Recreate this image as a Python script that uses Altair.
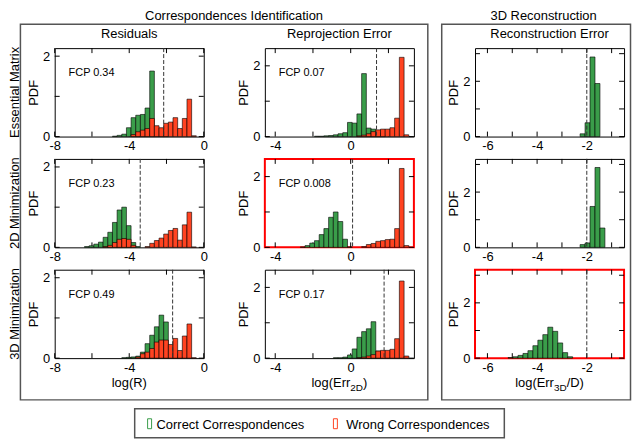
import altair as alt
import pandas as pd

FONT = "Liberation Sans"
GREEN = "#3a9d4a"
RED = "#ff4321"
FRAME = "#555555"

W, H = 150, 89
CS, RS = 61.5, 22.5

# ---------------- data ----------------
col_titles = ["Residuals", "Reprojection Error", "Reconstruction Error"]
row_titles = ["Essential Matrix", "2D Minimization", "3D Minimization"]
group_titles = ["Correspondences Identification", "3D Reconstruction"]
legend_labels = ["Correct Correspondences", "Wrong Correspondences"]

x_domains = [[-8, 0], [-4.55, 3.35], [-6.5, -0.5]]
x_tick_vals = [[-8, -6, -4, -2, 0], [-4, -2, 0, 2], [-6, -5, -4, -3, -2, -1]]
x_label_vals = [[-8, -4, 0], [-4, 0], [-6, -4, -2]]
y_domains = [[0, 2.2], [0, 2.5], [0, 3.2]]
y_tick_vals = [[0, 1, 2], [0, 1, 2], [0, 1, 2, 3]]
y_label_vals = [[0, 2], [0, 2], [0, 2]]
bin_widths = [0.25, 0.25, 0.2]

fcp_residuals = ["0.34", "0.23", "0.49"]
fcp_reprojection = ["0.07", "0.008", "0.17"]
thr_residuals = [-2.15, -3.41, -1.67]
thr_reprojection = [1.37, 0.1, 1.77]
thr_reconstruction = [-2.0, -2.0, -2.0]

res_em_green = [0.01, 0.03, 0.06, 0.22, 0.47, 0.53, 0.55, 0.71, 1.63, 0.10, 0.04, 0.02]
res_em_red = [0.05, 0.12, 0.16, 0.20, 0.45, 0.27, 0.22, 0.33, 0.36, 0.47, 0.20, 0.45, 0.93, 0.02]
res_2d_green = [0.02, 0.04, 0.08, 0.13, 0.25, 0.375, 0.62, 0.93, 1.00, 0.54, 0.12, 0.02]
res_2d_red = [0.02, 0.05, 0.12, 0.20, 0.22, 0.20, 0.05, 0, 0, 0.02, 0.10, 0.17, 0.23, 0.33,
              0.42, 0.47, 0.18, 0.56, 0.875, 0.01]
res_3d_green = [0.01, 0.02, 0.03, 0.05, 0.15, 0.36, 0.57, 0.78, 1.07, 0.90, 0.30, 0.10, 0.03]
res_3d_red = [0.03, 0.11, 0.15, 0.24, 0.40, 0.45, 0.45, 0.34, 0.49, 0.19, 0.55, 0.85, 0.01]
rep_em_green = [0.01, 0.01, 0.02, 0.03, 0.05, 0.08, 0.11, 0.40, 0.38, 0.64, 1.78, 0.24, 0.21, 0.10, 0.04]
rep_em_red = [0.02, 0.04, 0.08, 0.14, 0.19, 0.21, 0.21, 0.25, 0.52, 2.24, 0.05]
rep_2d_green = [0.01, 0.05, 0.12, 0.19, 0.36, 0.53, 0.85, 1.00, 0.73, 0.23, 0.01]
rep_2d_red = [0.02, 0.08, 0.11, 0.17, 0.19, 0.22, 0.23, 0.53, 2.23, 0.05]
rep_3d_green = [0.01, 0.01, 0.03, 0.09, 0.26, 0.59, 0.75, 0.83, 1.03, 0.20]
rep_3d_red = [0.01, 0.03, 0.06, 0.10, 0.20, 0.22, 0.22, 0.25, 0.55, 2.18, 0.06]
rec_em_green = [0.10, 0.50, 2.88, 1.92]
rec_2d_green = [0.10, 0.16, 1.48, 2.89, 0.70]
rec_3d_green = [0.02, 0.05, 0.10, 0.17, 0.27, 0.45, 0.65, 0.85, 1.12, 0.97, 0.55, 0.20, 0.05]

# (green start, green heights, red start, red heights) per panel [row][col]
panels = [
    [(-4.9, res_em_green, -3.9, res_em_red), (-1.92, rep_em_green, 0.33, rep_em_red), (-2.27, rec_em_green, None, [])],
    [(-6.4, res_2d_green, -5.4, res_2d_red), (-2.67, rep_2d_green, 0.58, rep_2d_red), (-2.27, rec_2d_green, None, [])],
    [(-4.4, res_3d_green, -3.65, res_3d_red), (-0.92, rep_3d_green, 0.33, rep_3d_red), (-5.17, rec_3d_green, None, [])],
]
thresholds = [thr_residuals, thr_reprojection, thr_reconstruction]
fcps = [fcp_residuals, fcp_reprojection, None]
highlight = {(1, 1), (2, 2)}

one = pd.DataFrame({"k": [0]})


def bins_df(start, width, heights):
    rows = []
    for i, h in enumerate(heights):
        if h > 0:
            rows.append({"x0": round(start + i * width, 4), "x1": round(start + (i + 1) * width, 4), "h": h})
    return pd.DataFrame(rows)


def txt(s, x, y, size=13, align="center", baseline="alphabetic", angle=0, color="black"):
    kw = dict(text=s, font=FONT, fontSize=size, align=align, baseline=baseline, color=color)
    if angle:
        kw["angle"] = angle
    return alt.Chart(one).mark_text(**kw).encode(x=alt.value(x), y=alt.value(y))


def box(x0, x1, y0, y1, color, sw):
    return alt.Chart(one).mark_rect(fillOpacity=0, stroke=color, strokeWidth=sw).encode(
        x=alt.value(x0), x2=alt.value(x1), y=alt.value(y0), y2=alt.value(y1))


AW = {"l": 0.222, "o": 0.556, "g": 0.556, "(": 0.333, "E": 0.667, "r": 0.333, ")": 0.333,
      "/": 0.278, "D": 0.722, "2": 0.556, "3": 0.556}


def twidth(s, size):
    return sum(AW.get(ch, 0.556) for ch in s) * size


def sub_title(main, sub, tail):
    parts = [(main, 13, 0), (sub, 10, 4), (tail, 13, 0)]
    total = sum(twidth(p, s) for p, s, _ in parts)
    x = W / 2 - total / 2
    out = []
    base = H + 29
    for p, s, dy in parts:
        out.append(txt(p, x, base + dy, size=s, align="left"))
        x += twidth(p, s)
    return out


def decorations():
    # coordinates relative to the top-left panel origin, drawn inside panel (1,0)
    dy = -(H + RS)
    L = []
    L.append(box(-34.5, 375.5, -24 + dy, 354 + dy, FRAME, 1.5))
    L.append(box(389.5, 579.5, -24 + dy, 354 + dy, FRAME, 1.5))
    L.append(txt(group_titles[0], 180.5, -38 + dy, baseline="top"))
    L.append(txt(group_titles[1], 492, -38 + dy, baseline="top"))
    for r in range(3):
        L.append(txt(row_titles[r], -40, r * (H + RS) + H / 2 + dy, baseline="middle", angle=270))
    L.append(box(80.5, 452.5, 363 + dy, 392 + dy, FRAME, 1.5))
    L.append(box(93.5, 97.5, 373 + dy, 383 + dy, GREEN, 1))
    L.append(txt(legend_labels[0], 102.5, 383 + dy, align="left"))
    L.append(box(280.5, 284.5, 373 + dy, 383 + dy, RED, 1))
    L.append(txt(legend_labels[1], 293.5, 383 + dy, align="left"))
    return L


def make_panel(r, c):
    xs = alt.Scale(domain=x_domains[c], nice=False, zero=False)
    ys = alt.Scale(domain=y_domains[c], nice=False)
    xaxis = alt.Axis(values=x_label_vals[c], title=None, labelExpr="'' + datum.value",
                     labelFlush=False, labelOverlap=False, labelPadding=3)
    yaxis = alt.Axis(values=y_label_vals[c], title="PDF", labelExpr="'' + datum.value",
                     labelFlush=False, labelOverlap=False, labelPadding=5, titlePadding=2)

    def X(f):
        return alt.X(f, type="quantitative", scale=xs, axis=xaxis)

    def Y(f):
        return alt.Y(f, type="quantitative", scale=ys, axis=yaxis)

    xt = pd.DataFrame({"t": x_tick_vals[c]})
    yt = pd.DataFrame({"t": y_tick_vals[c]})
    layers = [
        alt.Chart(xt).mark_rule(color="black", strokeWidth=1).encode(x=X("t"), y=alt.value(H), y2=alt.value(H - 5)),
        alt.Chart(xt).mark_rule(color="black", strokeWidth=1).encode(x=X("t"), y=alt.value(0), y2=alt.value(5)),
        alt.Chart(yt).mark_rule(color="black", strokeWidth=1).encode(y=Y("t"), x=alt.value(0), x2=alt.value(5)),
        alt.Chart(yt).mark_rule(color="black", strokeWidth=1).encode(y=Y("t"), x=alt.value(W), x2=alt.value(W - 5)),
    ]
    gs, gh, rs, rh = panels[r][c]
    bw = bin_widths[c]
    layers.append(alt.Chart(bins_df(gs, bw, gh)).mark_rect(fill=GREEN, stroke="black", strokeWidth=0.6).encode(
        x=X("x0"), x2="x1", y=Y("h"), y2=alt.datum(0)))
    if rh:
        layers.append(alt.Chart(bins_df(rs, bw, rh)).mark_rect(fill=RED, stroke="black", strokeWidth=0.6).encode(
            x=X("x0"), x2="x1", y=Y("h"), y2=alt.datum(0)))
    layers.append(alt.Chart(pd.DataFrame({"v": [thresholds[c][r]]})).mark_rule(
        color="#333333", strokeDash=[4, 2], strokeWidth=1).encode(x=X("v")))
    if fcps[c] is not None:
        layers.append(txt("FCP " + fcps[c][r], 14, 28, size=11, align="left"))
    if r == 0:
        layers.append(txt(col_titles[c], W / 2, -10))
    if r == 2:
        if c == 0:
            layers.append(txt("log(R)", W / 2, H + 29))
        elif c == 1:
            layers += sub_title("log(Err", "2D", ")")
        else:
            layers += sub_title("log(Err", "3D", "/D)")
    if r == 1 and c == 0:
        layers += decorations()

    props = dict(width=W, height=H)
    if (r, c) in highlight:
        props["view"] = alt.ViewBackground(stroke="#ff0000", strokeWidth=2)
    return alt.layer(*layers).properties(**props)


charts = [make_panel(r, c) for r in range(3) for c in range(3)]

chart = alt.concat(*charts, columns=3, spacing={"row": RS, "column": CS}, bounds="flush").properties(
    padding=0, background="white"
).configure_view(stroke="black", strokeWidth=1).configure_axis(
    domain=False, ticks=False, grid=False, labelFont=FONT, labelFontSize=13, labelColor="black",
    titleFont=FONT, titleFontSize=13, titleFontWeight="normal", titleColor="black"
)

chart.save("out.html", embed_options={"renderer": "svg", "actions": False})
